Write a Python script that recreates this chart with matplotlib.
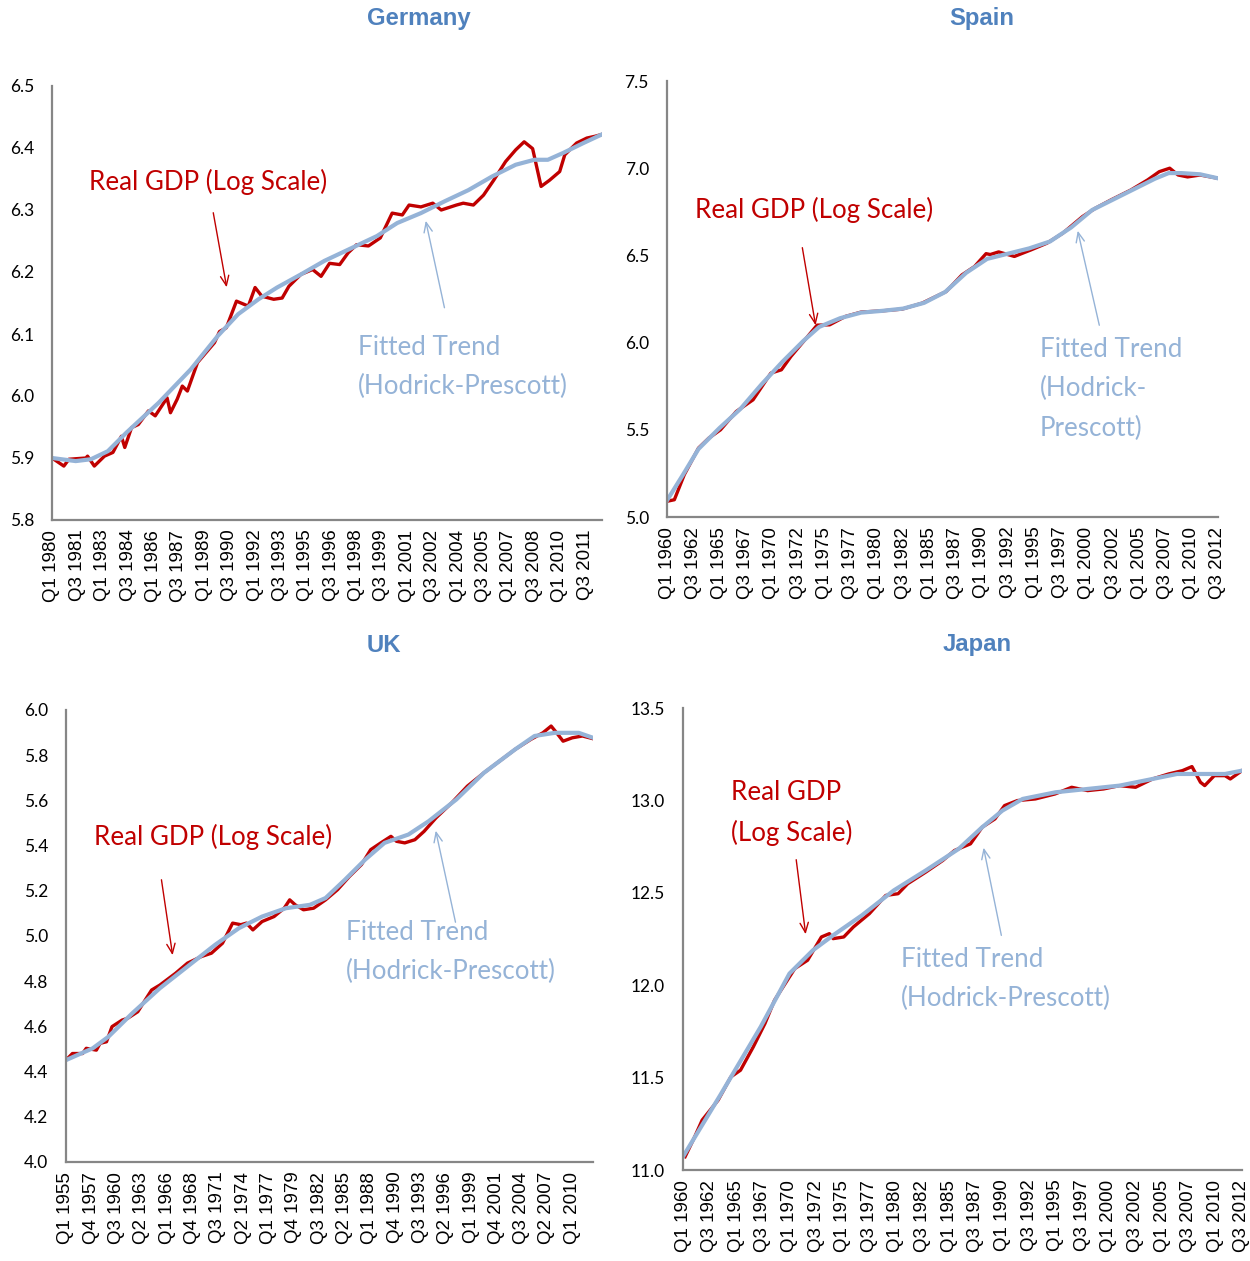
import matplotlib
matplotlib.use("Agg")
import matplotlib.pyplot as plt

# --- Data (year as decimal, log real GDP) ---
de_start = 1980
de_n = 131
de_gdp_t = [1980.0, 1980.7, 1981.0, 1982.0, 1982.1, 1982.5, 1983.1, 1983.6, 1984.1, 1984.3,
            1984.7, 1985.1, 1985.7, 1986.1, 1986.8, 1987.0, 1987.4, 1987.7, 1988.0, 1988.6,
            1989.6, 1989.9, 1990.3, 1990.9, 1991.6, 1992.0, 1992.4, 1993.1, 1993.6, 1994.0,
            1994.7, 1995.4, 1995.9, 1996.4, 1997.0, 1997.5, 1998.0, 1998.7, 1999.4, 2000.1,
            2000.7, 2001.1, 2001.8, 2002.5, 2003.0, 2003.9, 2004.3, 2004.9, 2005.5, 2006.1,
            2006.8, 2007.4, 2007.9, 2008.4, 2008.9, 2009.4, 2010.0, 2010.3, 2011.0, 2011.6,
            2012.1, 2012.5]
de_gdp = [5.900, 5.887, 5.898, 5.900, 5.903, 5.887, 5.903, 5.909, 5.935, 5.917,
          5.949, 5.954, 5.976, 5.968, 5.997, 5.973, 5.995, 6.016, 6.008, 6.054,
          6.086, 6.104, 6.110, 6.153, 6.145, 6.175, 6.161, 6.156, 6.158, 6.177,
          6.196, 6.204, 6.193, 6.214, 6.212, 6.231, 6.244, 6.242, 6.255, 6.295,
          6.292, 6.308, 6.305, 6.311, 6.300, 6.308, 6.311, 6.308, 6.324, 6.348,
          6.378, 6.397, 6.410, 6.399, 6.338, 6.348, 6.362, 6.389, 6.408, 6.416,
          6.419, 6.422]
de_trend_t = [1980.0, 1981.4, 1982.3, 1983.3, 1984.4, 1986.3, 1988.2, 1989.8, 1991.0, 1992.2,
              1993.3, 1994.7, 1996.1, 1997.5, 1999.2, 2000.4, 2001.8, 2003.2, 2004.6, 2006.0,
              2007.4, 2008.5, 2009.3, 2010.2, 2011.4, 2012.5]
de_trend = [5.900, 5.895, 5.898, 5.911, 5.941, 5.989, 6.043, 6.097, 6.132, 6.156,
            6.175, 6.196, 6.218, 6.236, 6.258, 6.279, 6.295, 6.314, 6.332, 6.354,
            6.373, 6.381, 6.381, 6.392, 6.408, 6.422]
de_ticks = ["Q1 1980", "Q3 1981", "Q1 1983", "Q3 1984", "Q1 1986", "Q3 1987", "Q1 1989",
            "Q3 1990", "Q1 1992", "Q3 1993", "Q1 1995", "Q3 1996", "Q1 1998", "Q3 1999",
            "Q1 2001", "Q3 2002", "Q1 2004", "Q3 2005", "Q1 2007", "Q3 2008", "Q1 2010",
            "Q3 2011"]

es_start = 1960
es_n = 211
es_gdp_t = [1960.0, 1960.7, 1961.65, 1963.0, 1964.0, 1965.1, 1966.6, 1968.2, 1969.9, 1970.9,
            1971.8, 1973.0, 1974.3, 1975.5, 1977.0, 1978.5, 1980.5, 1982.4, 1984.3, 1986.6,
            1988.1, 1989.3, 1990.4, 1990.8, 1991.6, 1993.1, 1994.7, 1996.2, 1997.7, 1999.6,
            2000.8, 2002.3, 2004.2, 2005.8, 2006.9, 2007.9, 2008.7, 2009.6, 2010.8, 2012.5]
es_gdp = [5.090, 5.099, 5.243, 5.395, 5.453, 5.500, 5.605, 5.672, 5.825, 5.844,
          5.920, 6.006, 6.100, 6.102, 6.150, 6.175, 6.182, 6.192, 6.226, 6.293,
          6.388, 6.436, 6.510, 6.505, 6.520, 6.494, 6.532, 6.570, 6.627, 6.723,
          6.770, 6.818, 6.875, 6.933, 6.980, 7.000, 6.961, 6.950, 6.961, 6.942]
es_trend_t = [1960.0, 1961.5, 1963.0, 1965.0, 1967.0, 1969.0, 1971.0, 1973.0, 1974.5, 1976.5,
              1978.5, 1980.5, 1982.5, 1984.5, 1986.5, 1988.5, 1990.5, 1992.5, 1994.5, 1996.5,
              1998.5, 2000.5, 2002.5, 2004.5, 2006.5, 2007.8, 2009.0, 2010.8, 2012.5]
es_trend = [5.095, 5.240, 5.390, 5.510, 5.620, 5.760, 5.890, 6.010, 6.090, 6.140,
            6.172, 6.182, 6.195, 6.228, 6.290, 6.400, 6.480, 6.510, 6.540, 6.580,
            6.660, 6.760, 6.820, 6.880, 6.940, 6.972, 6.972, 6.965, 6.942]
es_ticks = ["Q1 1960", "Q3 1962", "Q1 1965", "Q3 1967", "Q1 1970", "Q3 1972", "Q1 1975",
            "Q3 1977", "Q1 1980", "Q3 1982", "Q1 1985", "Q3 1987", "Q1 1990", "Q3 1992",
            "Q1 1995", "Q3 1997", "Q1 2000", "Q3 2002", "Q1 2005", "Q3 2007", "Q1 2010",
            "Q3 2012"]

uk_start = 1955
uk_n = 230
uk_gdp_t = [1955.0, 1955.7, 1956.8, 1957.2, 1958.3, 1958.7, 1959.4, 1960.0, 1961.1, 1961.7,
            1962.8, 1963.5, 1964.3, 1965.2, 1966.9, 1968.2, 1969.7, 1970.8, 1972.0, 1973.1,
            1974.0, 1974.6, 1975.3, 1976.3, 1977.6, 1978.7, 1979.3, 1979.9, 1980.8, 1981.9,
            1983.2, 1984.5, 1985.8, 1987.1, 1988.1, 1989.2, 1990.3, 1990.9, 1991.8, 1992.9,
            1993.9, 1995.2, 1996.9, 1998.6, 2000.4, 2002.1, 2003.8, 2005.5, 2006.8, 2007.7,
            2008.3, 2009.0, 2010.0, 2011.1, 2012.25]
uk_gdp = [4.451, 4.480, 4.480, 4.503, 4.495, 4.525, 4.532, 4.599, 4.628, 4.636,
          4.665, 4.710, 4.761, 4.783, 4.835, 4.880, 4.909, 4.924, 4.968, 5.057,
          5.050, 5.057, 5.027, 5.064, 5.086, 5.123, 5.160, 5.138, 5.116, 5.123,
          5.160, 5.205, 5.264, 5.316, 5.382, 5.412, 5.441, 5.419, 5.412, 5.426,
          5.463, 5.523, 5.589, 5.663, 5.722, 5.774, 5.826, 5.870, 5.899, 5.929,
          5.899, 5.862, 5.877, 5.885, 5.873]
uk_trend_t = [1955.0, 1957.9, 1959.6, 1962.2, 1965.2, 1968.2, 1971.2, 1973.8, 1976.3, 1978.9,
              1981.5, 1983.2, 1985.3, 1987.5, 1989.6, 1992.2, 1994.4, 1997.4, 2000.4, 2003.8,
              2005.9, 2008.1, 2010.7, 2012.25]
uk_trend = [4.451, 4.503, 4.554, 4.658, 4.769, 4.865, 4.961, 5.035, 5.086, 5.123,
            5.138, 5.168, 5.249, 5.338, 5.412, 5.449, 5.508, 5.604, 5.722, 5.826,
            5.885, 5.899, 5.899, 5.877]
uk_ticks = ["Q1 1955", "Q4 1957", "Q3 1960", "Q2 1963", "Q1 1966", "Q4 1968", "Q3 1971",
            "Q2 1974", "Q1 1977", "Q4 1979", "Q3 1982", "Q2 1985", "Q1 1988", "Q4 1990",
            "Q3 1993", "Q2 1996", "Q1 1999", "Q4 2001", "Q3 2004", "Q2 2007", "Q1 2010"]

jp_start = 1960
jp_n = 211
jp_gdp_t = [1960.2, 1961.1, 1961.8, 1963.3, 1964.5, 1965.4, 1966.6, 1967.7, 1968.6, 1969.6,
            1970.5, 1971.7, 1973.0, 1973.75, 1974.1, 1975.1, 1976.0, 1977.5, 1979.05, 1980.2,
            1981.1, 1982.8, 1984.4, 1985.5, 1987.0, 1988.1, 1989.3, 1990.2, 1991.4, 1993.1,
            1994.95, 1996.5, 1998.0, 1999.5, 2001.0, 2002.5, 2004.1, 2005.6, 2006.9, 2007.8,
            2008.6, 2009.0, 2009.9, 2010.9, 2011.4, 2012.5]
jp_gdp = [11.072, 11.180, 11.270, 11.378, 11.504, 11.540, 11.666, 11.793, 11.919, 12.009,
          12.090, 12.135, 12.261, 12.279, 12.252, 12.261, 12.315, 12.387, 12.486, 12.495,
          12.549, 12.612, 12.675, 12.729, 12.765, 12.855, 12.900, 12.972, 12.999, 13.008,
          13.035, 13.071, 13.053, 13.062, 13.080, 13.071, 13.116, 13.143, 13.161, 13.183,
          13.098, 13.080, 13.134, 13.134, 13.116, 13.161]
jp_trend_t = [1960.0, 1963.5, 1967.3, 1970.0, 1972.2, 1974.1, 1976.8, 1979.8, 1982.8, 1985.9,
              1988.1, 1990.0, 1991.9, 1995.0, 1998.0, 2001.0, 2004.1, 2006.4, 2008.6, 2010.9,
              2012.5]
jp_trend = [11.072, 11.405, 11.775, 12.063, 12.189, 12.270, 12.378, 12.513, 12.621, 12.738,
            12.855, 12.945, 13.008, 13.044, 13.062, 13.080, 13.116, 13.143, 13.143, 13.143,
            13.161]
jp_ticks = es_ticks

# --- Styles ---
RED = "#C00000"
BLUE = "#95B3D7"
TITLE_BLUE = "#4F81BD"
AXIS_GREY = "#868686"
W, H = 1250, 1261

fig = plt.figure(figsize=(W / 100, H / 100), dpi=100)


def qidx(years, start):
    return [(y - start) * 4 for y in years]


def tick_pos(labels, start):
    out = []
    for lab in labels:
        q, yr = lab.split()
        out.append((int(yr) - start) * 4 + int(q[1]) - 1)
    return out


def panel(box, start, n, gdp_t, gdp, trend_t, trend, ticks, ylim, ystep, title, title_xy,
          red_txt, red_arrow, blue_txt, blue_arrow):
    l, t, r, b = box
    ax = fig.add_axes([l / W, 1 - b / H, (r - l) / W, (b - t) / H])
    ax.plot(qidx(gdp_t, start), gdp, color=RED, lw=2.4, solid_joinstyle="round")
    ax.plot(qidx(trend_t, start), trend, color=BLUE, lw=3.0, solid_joinstyle="round")
    ax.set_xlim(0, n - 1)
    ax.set_ylim(*ylim)
    yt = []
    v = ylim[0]
    while v <= ylim[1] + 1e-9:
        yt.append(round(v, 2))
        v += ystep
    ax.set_yticks(yt)
    ax.set_yticklabels([f"{v:.1f}" for v in yt], fontfamily="Lato", fontsize=12.5)
    ax.set_xticks(tick_pos(ticks, start))
    ax.set_xticklabels(ticks, rotation=90, fontfamily="Liberation Sans", fontsize=13.5)
    ax.tick_params(axis="y", length=0, pad=13)
    ax.tick_params(axis="x", length=0, pad=7)
    for s in ["top", "right"]:
        ax.spines[s].set_visible(False)
    for s in ["left", "bottom"]:
        ax.spines[s].set_color(AXIS_GREY)
        ax.spines[s].set_linewidth(1.6)
    ax.patch.set_alpha(0)

    fig.text(title_xy[0] / W, 1 - title_xy[1] / H, title, ha="center", va="center",
             fontsize=17.2, fontweight="bold", color=TITLE_BLUE, family="Liberation Sans")

    ax.text(red_txt[0], red_txt[1], red_txt[2], color=RED, fontsize=18.7, family="Lato",
            ha="left", va="center", linespacing=1.7)
    ax.annotate("", xy=red_arrow[2:], xytext=red_arrow[:2],
                arrowprops=dict(arrowstyle="->,head_length=0.7,head_width=0.3", color=RED, lw=1.0))
    ax.text(blue_txt[0], blue_txt[1], blue_txt[2], color=BLUE, fontsize=18.7, family="Lato",
            ha="left", va="center", linespacing=1.7)
    ax.annotate("", xy=blue_arrow[2:], xytext=blue_arrow[:2],
                arrowprops=dict(arrowstyle="->,head_length=0.7,head_width=0.3", color=BLUE, lw=1.0))
    return ax


panel((52, 86, 602, 520), de_start, de_n, de_gdp_t, de_gdp, de_trend_t, de_trend, de_ticks,
      (5.8, 6.5), 0.1, "Germany", (419, 19),
      (8.7, 6.345, "Real GDP (Log Scale)"), (38.0, 6.300, 41.4, 6.171),
      (72.3, 6.047, "Fitted Trend\n(Hodrick-Prescott)"), (92.9, 6.138, 88.2, 6.287))

panel((667, 81, 1218, 517), es_start, es_n, es_gdp_t, es_gdp, es_trend_t, es_trend, es_ticks,
      (5.0, 7.5), 0.5, "Spain", (982, 19),
      (10.7, 6.76, "Real GDP (Log Scale)"), (51.4, 6.56, 56.8, 6.084),
      (142.1, 5.734, "Fitted Trend\n(Hodrick-\nPrescott)"), (165.0, 6.084, 156.3, 6.657))

panel((66, 710, 593, 1162), uk_start, uk_n, uk_gdp_t, uk_gdp, uk_trend_t, uk_trend, uk_ticks,
      (4.0, 6.0), 0.2, "UK", (384, 645),
      (12.2, 5.438, "Real GDP (Log Scale)"), (41.3, 5.261, 46.5, 4.903),
      (121.7, 4.929, "Fitted Trend\n(Hodrick-Prescott)"), (169.5, 5.049, 160.4, 5.478))

panel((683, 708, 1242, 1170), jp_start, jp_n, jp_gdp_t, jp_gdp, jp_trend_t, jp_trend, jp_ticks,
      (11.0, 13.5), 0.5, "Japan", (977, 645),
      (18.0, 12.932, "Real GDP\n(Log Scale)"), (42.4, 12.694, 46.2, 12.261),
      (81.9, 12.034, "Fitted Trend\n(Hodrick-Prescott)"), (119.8, 12.255, 112.7, 12.759))

fig.savefig("out.png", dpi=100)
